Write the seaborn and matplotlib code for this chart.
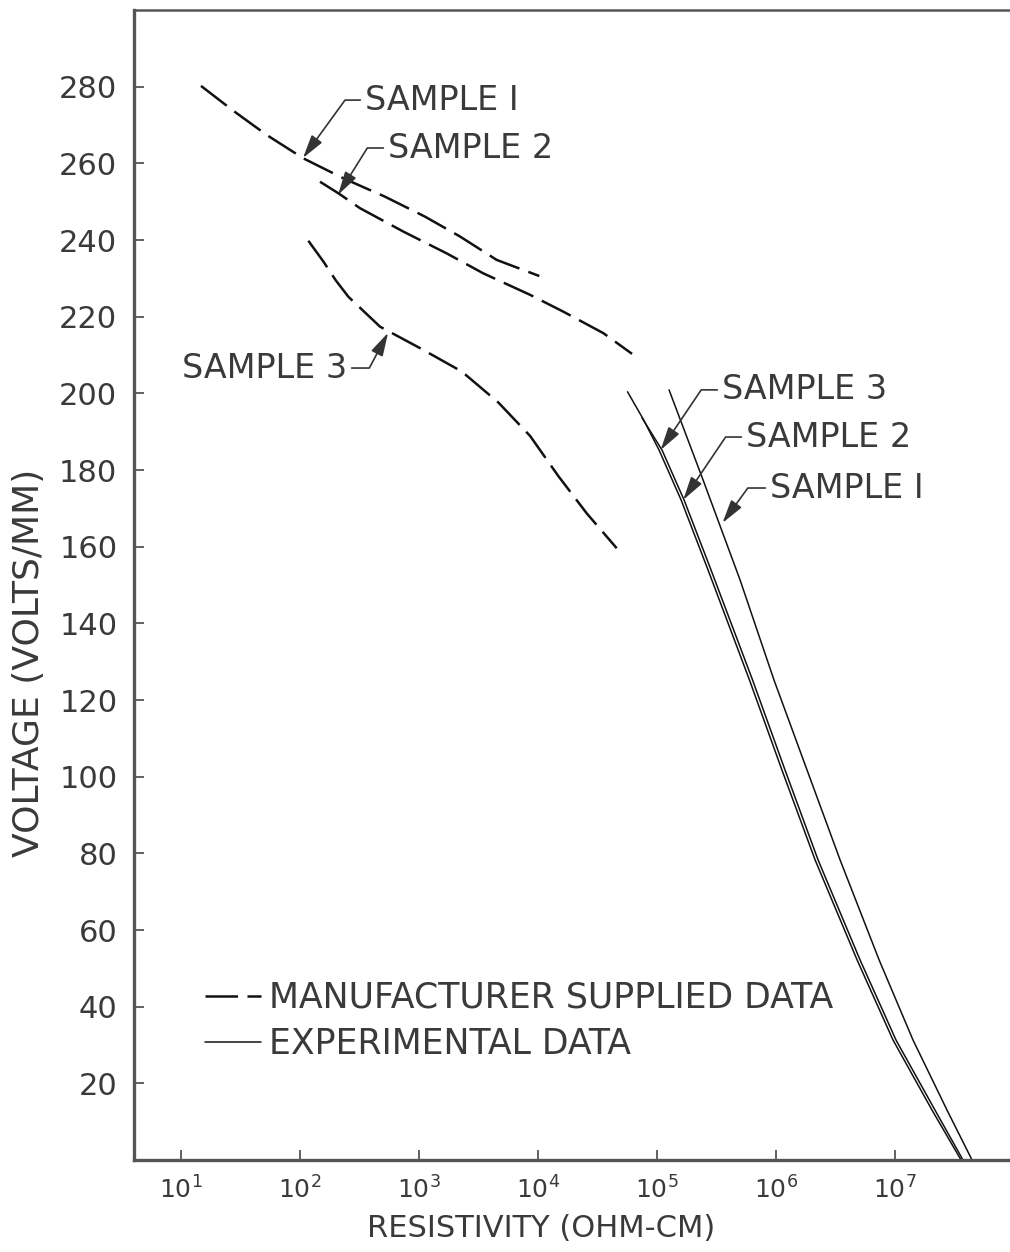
import numpy as np
import pandas as pd
import matplotlib
matplotlib.use("Agg")
import matplotlib.pyplot as plt
import seaborn as sns
from matplotlib.lines import Line2D
from matplotlib.ticker import FixedLocator, NullLocator, LogFormatterMathtext

# ---------------- data ----------------
# resistivity is stored as log10(ohm-cm), voltage in volts/mm
# Manufacturer supplied data (dashed curves)
man_s1_logres = [1.168, 1.440, 1.720, 2.028, 2.364, 2.714, 3.050, 3.345, 3.653, 4.011]
man_s1_volt = [280.2, 273.7, 267.4, 261.3, 256.1, 251.3, 246.1, 240.9, 234.8, 230.6]
man_s2_logres = [2.168, 2.322, 2.504, 2.868, 3.233, 3.540, 3.933, 4.213, 4.549, 4.790]
man_s2_volt = [255.2, 252.2, 248.3, 242.2, 236.5, 231.3, 225.7, 221.3, 215.7, 210.3]
man_s3_logres = [2.070, 2.196, 2.300, 2.406, 2.672, 3.008, 3.359, 3.667, 3.933, 4.171,
                 4.409, 4.661]
man_s3_volt = [239.8, 234.4, 229.5, 225.2, 217.4, 211.8, 205.7, 197.6, 188.9, 178.4,
               168.7, 159.6]

# Experimental data (solid curves)
exp_s1_logres = [5.101, 5.387, 5.698, 5.983, 6.261, 6.538, 6.866, 7.151, 7.437, 7.647]
exp_s1_volt = [200.9, 177.4, 151.3, 125.2, 101.7, 78.3, 52.2, 31.3, 13.0, 0.0]
exp_s2_logres = [4.874, 5.042, 5.227, 5.454, 5.803, 6.076, 6.353, 6.706, 7.008, 7.336, 7.571]
exp_s2_volt = [193.6, 185.2, 172.2, 153.9, 125.2, 101.7, 78.3, 52.2, 31.3, 13.0, 0.0]
exp_s3_logres = [4.752, 4.887, 5.017, 5.202, 5.429, 5.777, 6.050, 6.328, 6.681, 6.983,
                 7.311, 7.555]
exp_s3_volt = [200.4, 193.1, 185.2, 172.2, 153.9, 125.2, 101.7, 78.3, 52.2, 31.3,
               13.0, 0.0]

x_tick_values = [1e1, 1e2, 1e3, 1e4, 1e5, 1e6, 1e7]
y_tick_values = [20, 40, 60, 80, 100, 120, 140, 160, 180, 200, 220, 240, 260, 280]

legend_labels = ["MANUFACTURER SUPPLIED DATA", "EXPERIMENTAL DATA"]

# annotations: (label, tip_logres, tip_volt, text_logres, text_volt, align, leader angle)
annotations = [
    ("SAMPLE I", 2.025, 261.4, 2.546, 276.5, "left", 54),
    ("SAMPLE 2", 2.320, 251.8, 2.740, 264.0, "left", 58),
    ("SAMPLE 3", 2.740, 215.8, 2.395, 206.6, "right", 62),
    ("SAMPLE 3", 5.030, 185.2, 5.546, 200.9, "left", 56),
    ("SAMPLE 2", 5.220, 172.2, 5.748, 188.6, "left", 56),
    ("SAMPLE I", 5.550, 166.2, 5.950, 175.3, "left", 54),
]

# ---------------- build long tables ----------------
def frame(logres, volt, name):
    return pd.DataFrame({"res": np.power(10.0, logres), "volt": volt, "sample": name})

man_df = pd.concat([frame(man_s1_logres, man_s1_volt, "S1"),
                    frame(man_s2_logres, man_s2_volt, "S2"),
                    frame(man_s3_logres, man_s3_volt, "S3")], ignore_index=True)
exp_df = pd.concat([frame(exp_s1_logres, exp_s1_volt, "S1"),
                    frame(exp_s2_logres, exp_s2_volt, "S2"),
                    frame(exp_s3_logres, exp_s3_volt, "S3")], ignore_index=True)

# ---------------- style ----------------
sns.set_style("ticks")
plt.rcParams["font.family"] = ["DejaVu Sans"]
TXT = "#3a3a3a"
LINE = "#111111"
AX = "#555555"

fig = plt.figure(figsize=(10.10, 12.52), dpi=100)
ax = fig.add_axes([134 / 1010, 92 / 1252, 876 / 1010, 1150 / 1252])
ax.set_xscale("log")

dash_pat = (0, (13, 3.8))
sns.lineplot(data=man_df, x="res", y="volt", units="sample", estimator=None,
             sort=False, color=LINE, lw=1.8, linestyle=dash_pat, ax=ax, legend=False)
sns.lineplot(data=exp_df, x="res", y="volt", units="sample", estimator=None,
             sort=False, color=LINE, lw=1.1, ax=ax, legend=False)

ax.set_xlim(10 ** 0.605, 10 ** 7.966)
ax.set_ylim(0, 300)

ax.xaxis.set_major_locator(FixedLocator(x_tick_values))
ax.xaxis.set_major_formatter(LogFormatterMathtext())
ax.xaxis.set_minor_locator(NullLocator())
ax.yaxis.set_major_locator(FixedLocator(y_tick_values))

ax.tick_params(axis="both", direction="in", length=7, width=1.3, color=AX,
               labelcolor=TXT)
ax.tick_params(axis="x", labelsize=18, pad=12)
ax.tick_params(axis="y", labelsize=22, pad=12)

for side in ["left", "bottom"]:
    ax.spines[side].set_linewidth(2.4)
    ax.spines[side].set_color(AX)
ax.spines["top"].set_linewidth(1.8)
ax.spines["top"].set_color(AX)
ax.spines["right"].set_visible(False)

ax.set_xlabel("RESISTIVITY (OHM-CM)", fontsize=22, color=TXT)
ax.set_ylabel("VOLTAGE (VOLTS/MM)", fontsize=26, color=TXT)
ax.xaxis.set_label_coords(0.465, -0.047)
ax.yaxis.set_label_coords(-0.100, 0.432)

# ---------------- annotations ----------------
for label, tx, ty, sx, sy, align, ang in annotations:
    relx = 0.0 if align == "left" else 1.0
    angA = 180 if align == "left" else 0
    ax.annotate(label, xy=(10 ** tx, ty), xytext=(10 ** sx, sy), ha=align, va="center",
                fontsize=24, color=TXT,
                arrowprops=dict(arrowstyle="-|>,head_length=1.1,head_width=0.3",
                                mutation_scale=13, color="#333333", lw=1.2,
                                shrinkA=1, shrinkB=0, relpos=(relx, 0.5),
                                connectionstyle=f"angle,angleA={angA},angleB={ang},rad=0"))

# ---------------- legend ----------------
handles = [Line2D([], [], color=LINE, lw=1.8, linestyle=dash_pat),
           Line2D([], [], color=LINE, lw=1.1)]
leg = ax.legend(handles, legend_labels, loc="lower left", bbox_to_anchor=(0.081, 0.086),
                frameon=False, fontsize=25, handlelength=1.6, handletextpad=0.25,
                labelspacing=0.35, borderpad=0, borderaxespad=0)
for t in leg.get_texts():
    t.set_color(TXT)

fig.savefig("out.png", dpi=100)
